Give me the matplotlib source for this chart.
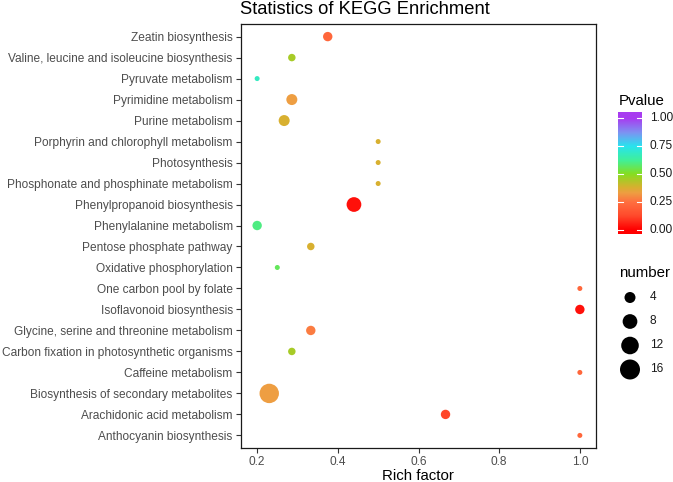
import numpy as np
import matplotlib
matplotlib.use("Agg")
import matplotlib.pyplot as plt
from matplotlib.colors import LinearSegmentedColormap

plt.rcParams['font.family'] = ['Liberation Sans', 'DejaVu Sans']

# KEGG pathways, listed top to bottom as in the chart
pathways = [
    "Zeatin biosynthesis",
    "Valine, leucine and isoleucine biosynthesis",
    "Pyruvate metabolism",
    "Pyrimidine metabolism",
    "Purine metabolism",
    "Porphyrin and chlorophyll metabolism",
    "Photosynthesis",
    "Phosphonate and phosphinate metabolism",
    "Phenylpropanoid biosynthesis",
    "Phenylalanine metabolism",
    "Pentose phosphate pathway",
    "Oxidative phosphorylation",
    "One carbon pool by folate",
    "Isoflavonoid biosynthesis",
    "Glycine, serine and threonine metabolism",
    "Carbon fixation in photosynthetic organisms",
    "Caffeine metabolism",
    "Biosynthesis of secondary metabolites",
    "Arachidonic acid metabolism",
    "Anthocyanin biosynthesis",
]
rich_factor = [0.375, 0.286, 0.2, 0.286, 0.267, 0.5, 0.5, 0.5, 0.44, 0.2,
               0.333, 0.25, 1.0, 1.0, 0.333, 0.286, 1.0, 0.23, 0.667, 1.0]
pvalue = [0.22, 0.45, 0.68, 0.33, 0.38, 0.38, 0.38, 0.38, 0.03, 0.60,
          0.38, 0.56, 0.22, 0.03, 0.27, 0.45, 0.22, 0.33, 0.12, 0.22]
number = [3, 2, 1, 4, 4, 1, 1, 1, 8, 3,
          2, 1, 1, 3, 3, 2, 1, 15, 3, 1]

x_ticks = [0.2, 0.4, 0.6, 0.8, 1.0]
pvalue_ticks = [0.0, 0.25, 0.5, 0.75, 1.0]
size_breaks = [4, 8, 12, 16]

DPI = 100
W, H = 673, 482

cmap = LinearSegmentedColormap.from_list("kegg", [
    (0.0, "#FF0000"), (0.125, "#FF4A2C"), (0.25, "#FF7040"), (0.33, "#EE9E42"),
    (0.38, "#D8B030"), (0.5, "#86DE20"), (0.625, "#40F09A"), (0.75, "#28E4EE"),
    (0.875, "#7E92F2"), (1.0, "#A83CF0")])


def diam_px(n):
    # point diameter in pixels, grows with sqrt(count)
    return np.interp(np.sqrt(n), [1, 2, 4], [5.0, 11.0, 20.0])


def marker_area(n):
    return (diam_px(np.asarray(n, dtype=float)) * 72.0 / DPI) ** 2


def fig_rect(left, top, right, bottom):
    return [left / W, 1 - bottom / H, (right - left) / W, (bottom - top) / H]


fig = plt.figure(figsize=(W / DPI, H / DPI), dpi=DPI)

# main panel
ax = fig.add_axes(fig_rect(241, 24, 596, 448))
y = np.arange(len(pathways))[::-1] + 1
ax.scatter(rich_factor, y, s=marker_area(number), c=pvalue, cmap=cmap,
           vmin=0, vmax=1, linewidths=0, zorder=3)
ax.set_xlim(0.16, 1.04)
ax.set_ylim(0.4, len(pathways) + 0.6)
ax.set_yticks(y)
ax.set_yticklabels(pathways)
ax.set_xticks(x_ticks)
ax.set_xticklabels([f"{v:.1f}" for v in x_ticks])
ax.tick_params(axis='both', labelsize=8.6, labelcolor='#4D4D4D', color='#333333',
               length=3.5, width=0.8, pad=2.5)
for sp in ax.spines.values():
    sp.set_color('#1A1A1A')
    sp.set_linewidth(0.9)

fig.text(240 / W, 1 - 14 / H, "Statistics of KEGG Enrichment", ha='left',
         va='baseline', fontsize=13.2, color='black')
fig.text(418 / W, 1 - 480 / H, "Rich factor", ha='center', va='baseline',
         fontsize=10.8, color='black')

# colour bar legend
bar_top, bar_bot = 112, 234
cax = fig.add_axes(fig_rect(618, bar_top, 642, bar_bot))
lo = -(bar_bot - 230) / 112.0
hi = 1 + (118 - bar_top) / 112.0
grad = np.linspace(lo, hi, 200).reshape(-1, 1)
cax.imshow(grad, aspect='auto', cmap=cmap, vmin=0, vmax=1, origin='lower',
           extent=[0, 1, lo, hi])
cax.set_xlim(0, 1)
cax.set_ylim(lo, hi)
for t in pvalue_ticks:
    cax.plot([0, 0.2], [t, t], color='white', lw=0.8)
    cax.plot([0.8, 1], [t, t], color='white', lw=0.8)
cax.set_xticks([])
cax.set_yticks([])
for sp in cax.spines.values():
    sp.set_visible(False)

lax = fig.add_axes([0, 0, 1, 1], facecolor='none')
lax.set_xlim(0, W)
lax.set_ylim(H, 0)
lax.axis('off')
lax.text(619, 105, "Pvalue", ha='left', va='baseline', fontsize=10.8)
for t in pvalue_ticks:
    py = 230 - t * 112
    lax.text(650, py, f"{t:.2f}", ha='left', va='center', fontsize=8.6,
             color='#1A1A1A')

lax.text(619, 277, "number", ha='left', va='baseline', fontsize=10.8)
leg_y = 297.5 + 24 * np.arange(len(size_breaks))
lax.scatter([630] * len(size_breaks), leg_y, s=marker_area(size_breaks),
            color='black', linewidths=0)
for n, py in zip(size_breaks, leg_y):
    lax.text(650, py, str(n), ha='left', va='center', fontsize=8.6,
             color='#1A1A1A')

fig.savefig("out.png", dpi=DPI)
